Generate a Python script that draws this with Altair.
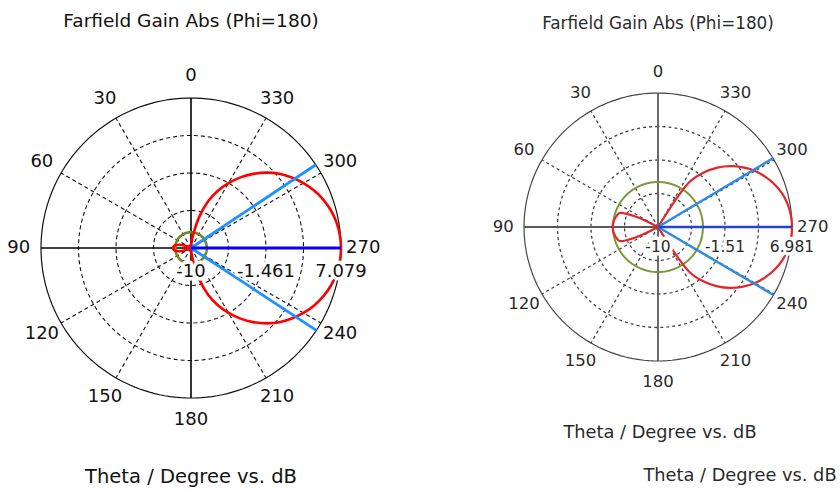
import altair as alt
import numpy as np
import pandas as pd

# ---------------- data ----------------
THETA = list(range(0, 361, 5))  # Theta / degree

LEFT_GAIN = [
    -10, -10, -10, -10, -10, -10, -10, -10, -10, -10, -10, -10, -10,          # 0..60
    -9.8, -9.2, -8.6, -8.2, -8.0, -7.95, -8.0, -8.2, -8.6, -9.2, -9.8,        # 65..115
    -10, -10, -10, -10, -10, -10, -10, -10, -10, -10, -10, -10, -10,          # 120..180
    -9.49, -8.29, -6.24, -4.36, -2.83, -1.46, -0.18, 1.02, 2.13, 3.15, 4.00,  # 185..235
    4.79, 5.47, 6.05, 6.50, 6.82, 7.01,                                       # 240..265
    7.079,                                                                    # 270
    7.01, 6.82, 6.50, 6.05, 5.47, 4.79, 4.00, 3.15, 2.13, 1.02, -0.18,        # 275..325
    -1.46, -2.83, -4.36, -6.24, -8.29, -9.49,                                 # 330..355
    -10,                                                                      # 360
]

RIGHT_GAIN = [
    -10, -10, -10, -10, -10, -10, -10, -10, -10, -10, -10, -10, -10,          # 0..60
    -6.94, -4.82, -4.57, -4.40, -4.29, -4.26, -4.29, -4.40, -4.57, -4.82, -6.94,  # 65..115
    -10, -10, -10, -10, -10, -10, -10, -10, -10, -10, -10, -10, -10, -10,     # 120..185
    -10, -10, -10, -10, -10,                                                  # 190..210
    -3.0, -0.98, 0.65, 2.01, 3.16, 4.20, 5.03, 5.74, 6.30, 6.68, 6.90,        # 215..265
    6.981,                                                                    # 270
    6.90, 6.68, 6.30, 5.74, 5.03, 4.20, 3.16, 2.01, 0.65, -0.98, -3.0,        # 275..325
    -10, -10, -10, -10, -10, -10, -10,                                        # 330..360
]

LEFT_RANGE = [-10, 7.079]
RIGHT_RANGE = [-10, 6.981]
LEFT_SIDELOBE = -8.2
RIGHT_SIDELOBE = -4.3
MAIN_DIR = 270
LEFT_BEAM = [236.7, 303.7]
RIGHT_BEAM = [239.5, 300.9]
LEFT_RING_LABELS = ["-10", "-1.461", "7.079"]
RIGHT_RING_LABELS = ["-10", "-1.51", "6.981"]
ANGLE_LABELS = list(range(0, 360, 30))
TITLE = "Farfield Gain Abs (Phi=180)"
CAPTION = "Theta / Degree vs. dB"

W, H = 420, 491


def panel(gain, rng, sll, beam, ring_labels, geo, sty, texts):
    cx, cy, R = geo
    lo, hi = rng
    xdom = [-cx / R, (W - cx) / R]
    ydom = [(cy - H) / R, cy / R]

    def X(f):
        return alt.X(f, type="quantitative", axis=None,
                     scale=alt.Scale(domain=xdom, nice=False, zero=False))

    def Y(f):
        return alt.Y(f, type="quantitative", axis=None,
                     scale=alt.Scale(domain=ydom, nice=False, zero=False))

    rexpr = f"(clamp(datum.gain,{lo},{hi})-({lo}))/({hi}-({lo}))"
    xexpr = "-datum.r*sin(datum.theta*PI/180)"
    yexpr = "datum.r*cos(datum.theta*PI/180)"

    # grid rings
    ring_rows = [{"ring": rr, "theta": a} for rr in (0.25, 0.5, 0.75) for a in range(0, 361, 2)]
    rings = alt.Chart(pd.DataFrame(ring_rows)).transform_calculate(
        x="-datum.ring*sin(datum.theta*PI/180)", y="datum.ring*cos(datum.theta*PI/180)"
    ).mark_line(color=sty["grid"], strokeWidth=sty["gdw"], strokeDash=sty["dash"]).encode(
        x=X("x"), y=Y("y"), detail="ring:N", order="theta:Q")

    outer = alt.Chart(pd.DataFrame({"theta": list(range(0, 361, 2))})).transform_calculate(
        x="-sin(datum.theta*PI/180)", y="cos(datum.theta*PI/180)"
    ).mark_line(color=sty["outer"], strokeWidth=1.2).encode(x=X("x"), y=Y("y"), order="theta:Q")

    spokes = alt.Chart(pd.DataFrame({"theta": [30, 60, 120, 150, 210, 240, 300, 330]})).transform_calculate(
        x0="0", y0="0", x1="-sin(datum.theta*PI/180)", y1="cos(datum.theta*PI/180)"
    ).mark_rule(color=sty["grid"], strokeWidth=sty["gdw"], strokeDash=sty["dash"]).encode(
        x=X("x0"), y=Y("y0"), x2="x1:Q", y2="y1:Q")

    axes = alt.Chart(pd.DataFrame({"theta": [0, 90]})).transform_calculate(
        x0="sin(datum.theta*PI/180)", y0="-cos(datum.theta*PI/180)",
        x1="-sin(datum.theta*PI/180)", y1="cos(datum.theta*PI/180)"
    ).mark_rule(color=sty["axis"], strokeWidth=sty["aw"]).encode(
        x=X("x0"), y=Y("y0"), x2="x1:Q", y2="y1:Q")

    green = alt.Chart(pd.DataFrame({"theta": list(range(0, 361, 3))})).transform_calculate(
        gain=str(sll)).transform_calculate(r=rexpr).transform_calculate(x=xexpr, y=yexpr
    ).mark_line(color=sty["green"], strokeWidth=sty["gw"]).encode(x=X("x"), y=Y("y"), order="theta:Q")

    curve = alt.Chart(pd.DataFrame({"theta": THETA, "gain": gain})).transform_calculate(
        r=rexpr).transform_calculate(x=xexpr, y=yexpr
    ).mark_line(color=sty["red"], strokeWidth=sty["rw"], interpolate="catmull-rom").encode(
        x=X("x"), y=Y("y"), order="theta:Q")

    beams = alt.Chart(pd.DataFrame({"theta": beam})).transform_calculate(
        x0="0", y0="0", x1="-sin(datum.theta*PI/180)", y1="cos(datum.theta*PI/180)"
    ).mark_rule(color=sty["lblue"], strokeWidth=sty["bw"]).encode(
        x=X("x0"), y=Y("y0"), x2="x1:Q", y2="y1:Q")

    main = alt.Chart(pd.DataFrame({"theta": [MAIN_DIR], "gain": [max(gain)]})).transform_calculate(
        r=rexpr).transform_calculate(x0="0", y0="0", x1=xexpr, y1=yexpr
    ).mark_rule(color=sty["blue"], strokeWidth=sty["bw"]).encode(
        x=X("x0"), y=Y("y0"), x2="x1:Q", y2="y1:Q")

    vals = pd.DataFrame({"label": ring_labels})
    vbase = alt.Chart(vals).transform_calculate(
        gain="toNumber(datum.label)").transform_calculate(r=rexpr).transform_calculate(y="0")
    vhalo = vbase.mark_text(font="DejaVu Sans", fontSize=sty["vfs"], dy=sty["vdy"], stroke="white",
                            strokeWidth=7, strokeJoin="round", color="white", align="center").encode(
        x=X("r"), y=Y("y"), text="label:N")
    vtext = vbase.mark_text(font="DejaVu Sans", fontSize=sty["vfs"], dy=sty["vdy"], color=sty["text"],
                            align="center").encode(
        x=X("r"), y=Y("y"), text="label:N")

    alabels = alt.Chart(pd.DataFrame({"theta": ANGLE_LABELS})).transform_calculate(
        label="toString(datum.theta)",
        x=f"-{sty['lr']}*sin(datum.theta*PI/180)", y=f"{sty['lr']}*cos(datum.theta*PI/180)"
    ).mark_text(font="DejaVu Sans", fontSize=sty["afs"], color=sty["text"], baseline="middle").encode(
        x=X("x"), y=Y("y"), text="label:N")

    layers = [rings, spokes, outer, axes, green, curve, beams, main, vhalo, vtext, alabels]
    for (txt, px, py, fs) in texts:
        layers.append(alt.Chart(pd.DataFrame({"t": [txt]})).mark_text(
            font="DejaVu Sans", fontSize=fs, color=sty["text"], baseline="middle").encode(
            x=alt.value(px), y=alt.value(py), text="t:N"))

    return alt.layer(*layers).properties(width=W, height=H)


left_style = dict(grid="#111111", outer="#111111", axis="#000000", dash=[4, 3], gdw=1.1, aw=1.6,
                  green="#6B8E23", red="#FF0000", lblue="#1E90FF", blue="#0000FF",
                  rw=2.6, gw=2.6, bw=2.8, text="#111111", vfs=18, vdy=24, afs=18, lr=1.148)
right_style = dict(grid="#444444", outer="#444444", axis="#5a5a5a", dash=[3, 3], gdw=1.3, aw=1.8,
                   green="#7B9A3C", red="#E3262B", lblue="#2E8AE6", blue="#2643D6",
                   rw=2.2, gw=2.0, bw=2.4, text="#2a2a2a", vfs=15.5, vdy=20, afs=16.5, lr=1.155)

left = panel(LEFT_GAIN, LEFT_RANGE, LEFT_SIDELOBE, LEFT_BEAM, LEFT_RING_LABELS,
             (191, 248, 150), left_style,
             [(TITLE, 191, 21, 18.5), (CAPTION, 191, 477, 19.5)])
right = panel(RIGHT_GAIN, RIGHT_RANGE, RIGHT_SIDELOBE, RIGHT_BEAM, RIGHT_RING_LABELS,
              (238, 227, 134), right_style,
              [(TITLE, 238, 24, 16.8), (CAPTION, 240, 433, 17.8), (CAPTION, 320, 476, 17.8)])

chart = alt.hconcat(left, right, spacing=0).properties(padding=0).configure_view(stroke=None)
chart.save("out.html", embed_options={"renderer": "svg", "actions": False})
